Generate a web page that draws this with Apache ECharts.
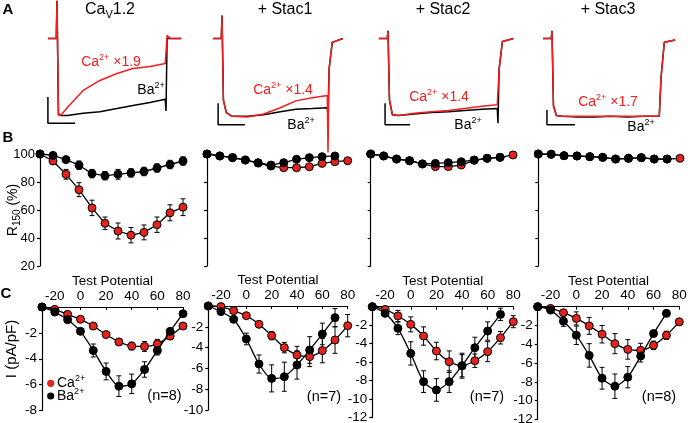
<!DOCTYPE html>
<html><head><meta charset="utf-8">
<script src="https://cdn.jsdelivr.net/npm/echarts@6/dist/echarts.min.js"></script>
<style>html,body{margin:0;padding:0;background:#fff}#c{width:688px;height:423px}</style>
</head><body><div id="c"></div>
<script>
// ---------------- DATA ----------------
const voltages = [-30,-20,-10,0,10,20,30,40,50,60,70,80];

// Row A: normalized current traces (time in ms from pulse onset)
const traceTime = [-25,-2,0,4,12,28,72,118,165,209,256,298,300,303,312,342];
const a1Ca = [0,0,0.49,-1.0,-0.99,-0.9,-0.675,-0.545,-0.455,-0.39,-0.364,-0.325,-0.33,0.04,0,0];
const a1Ba = [0,0,0.49,-0.98,-1.0,-1.0,-0.97,-0.95,-0.91,-0.87,-0.83,-0.79,-0.94,0,0,0];
const a2Ca = [0,0,0.30,-0.8,-0.96,-1.01,-1.02,-0.98,-0.9,-0.81,-0.77,-0.74,-1.48,-0.4,-0.05,0];
const a2Ba = [0,0,0.30,-0.8,-0.96,-1.01,-1.01,-0.99,-0.95,-0.92,-0.91,-0.9,-1.0,-0.4,-0.05,0];
const a3Ca = [0,0,0.10,-0.8,-0.99,-1.0,-0.97,-0.95,-0.935,-0.91,-0.88,-0.86,-0.86,-0.4,-0.04,0];
const a3Ba = [0,0,0.10,-0.8,-0.99,-1.0,-0.98,-0.96,-0.95,-0.935,-0.92,-0.91,-1.1,-0.4,-0.04,0];
const a4Ca = [0,0,0.10,-0.87,-1.0,-1.01,-1.01,-1.01,-1.01,-1.01,-1.01,-1.01,-1.01,-0.5,-0.05,-0.02];
const a4Ba = [0,0,0.10,-0.87,-1.0,-1.01,-1.02,-1.02,-1.01,-1.02,-1.01,-1.01,-1.02,-0.5,-0.05,-0.02];
// scale bars: [t start, t end, current top, current bottom]
const scaleBarT0 = [-25,-11,-8,-14];
const scaleBarT1 = [50,65,60,64];
const scaleBarTop = [-0.76,-0.84,-0.84,-0.93];
const scaleBarBottom = [-1.1,-1.12,-1.12,-1.12];
const panelTitles = ['Ca{sub|V}1.2','+ Stac1','+ Stac2','+ Stac3'];
const caScaleFactors = ['1.9','1.4','1.4','1.7'];

// Row B: R150 (%)
const b1Ca = [100,95,85.5,74.5,61.5,50.5,45,42,44,49.5,58,62];
const b1CaErr = [0,1.5,3.5,5,5.5,4.5,5.7,5.5,5.3,5.5,5.7,6];
const b1Ba = [100,99,96,92,86,84.5,85.5,86.5,87.5,90,92.5,95];
const b1BaErr = [0,1,2,3,3,3,3.5,3,3,3,3,3];
const b2Ca = [100,98.6,97.4,95.7,93.5,91.4,90.2,90.2,90.9,93.3,94.5,95.2];
const b2Ba = [100,98.6,97.4,95.7,93.8,92.1,93.8,96.2,97.4,98.1,98.6,null];
const b3Ca = [100,98.6,96.4,95.2,92.9,91,91,92.1,95.5,96.9,97.6,99.3];
const b3Ba = [100,98.6,96.4,95.2,92.9,93.3,93.8,94.5,95.7,96.9,97.6,null];
const b4Ca = [100,99.8,98.8,98.6,98.1,97.6,96.4,96.9,97.4,96.4,96.4,96.9];
const b4Ba = [100,99.8,98.8,98.6,98.1,97.6,96.4,96.9,97.4,96.4,96.4,null];

// Row C: I (pA/pF)
const c1Ca = [0,-0.18,-0.57,-0.95,-1.47,-2.13,-2.7,-3.02,-3.05,-2.85,-2.25,-1.47];
const c1CaErr = [0,0.05,0.1,0.1,0.15,0.2,0.25,0.3,0.38,0.35,0.25,0.2];
const c1Ba = [0,-0.39,-0.98,-1.88,-3.36,-4.98,-6.12,-5.94,-4.83,-3.36,-1.88,-0.52];
const c1BaErr = [0,0.1,0.15,0.2,0.5,0.65,0.8,0.75,0.6,0.35,0.2,0.1];
const c2Ca = [0,-0.06,-0.45,-0.93,-1.76,-2.85,-4.0,-4.71,-4.87,-4.29,-3.27,-1.89];
const c2CaErr = [0,0.05,0.1,0.15,0.25,0.4,0.5,0.83,0.96,1.17,1.28,1.07];
const c2Ba = [0,-0.54,-1.28,-3.17,-5.58,-6.96,-6.8,-5.67,-4.23,-2.69,-1.12,null];
const c2BaErr = [0,0.1,0.2,0.56,0.87,1.3,1.4,1.36,1.28,1.04,0.88,null];
const c3Ca = [0,-0.29,-1.0,-1.91,-3.17,-4.79,-5.95,-6.38,-5.84,-4.86,-3.35,-1.62];
const c3CaErr = [0,0.15,0.6,0.81,0.99,0.95,1.17,1.2,0.72,1.08,0.68,0.65];
const c3Ba = [0,-0.72,-2.34,-5.05,-8.1,-9.0,-8.1,-6.38,-4.43,-2.63,-0.83,null];
const c3BaErr = [0,0.3,0.68,1.26,1.17,1.22,1.17,1.35,1.13,0.99,0.67,null];
const c4Ca = [0,-0.18,-0.64,-1.25,-2.04,-2.93,-3.93,-4.54,-4.64,-4.11,-3.04,-1.61];
const c4CaErr = [0,0.05,0.2,0.7,0.9,0.93,1.07,1.04,0.75,0.45,0.43,0.36];
const c4Ba = [0,-0.36,-1.54,-3.04,-5.18,-7.61,-8.46,-7.5,-5.25,-2.86,-0.71,null];
const c4BaErr = [0,0.1,0.54,0.98,1.25,1.16,1.3,1.13,0.63,0.3,0.1,null];
const cYMin = [-8,-10,-12,-12];
const cXTicks = [-20,0,20,40,60,80];
const nLabels = ['(n=8)','(n=7)','(n=7)','(n=8)'];

// ---------------- LAYOUT / STYLE ----------------
const FONT = "'Liberation Sans', Arial, Helvetica, sans-serif";
const RED_MARK = '#e3231d';
const RED_TRACE = '#f51d1d';
const aOnset = [57,222,388,552], aEnd = [166,328,498,660];
const bLeft = [40,207,370.7,538.3], bRight = [183,347.7,513,680];
const cLeft = [42,208.3,372.3,537.7], cRight = [183,347.7,513.3,679.3];
const cTop = [307,306,306.7,306.7], cBottom = [410.5,410,417.7,419.5];

const caTraces = [a1Ca,a2Ca,a3Ca,a4Ca], baTraces = [a1Ba,a2Ba,a3Ba,a4Ba];
const bCa = [b1Ca,b2Ca,b3Ca,b4Ca], bBa = [b1Ba,b2Ba,b3Ba,b4Ba];
const cCa = [c1Ca,c2Ca,c3Ca,c4Ca], cBa = [c1Ba,c2Ba,c3Ba,c4Ba];
const cCaErr = [c1CaErr,c2CaErr,c3CaErr,c4CaErr], cBaErr = [c1BaErr,c2BaErr,c3BaErr,c4BaErr];

const grid=[], xAxis=[], yAxis=[], series=[], graphic=[];
function addAxes(g, xa, ya){
  const i = grid.length;
  grid.push(Object.assign({outerBoundsMode:'none', containLabel:false}, g));
  xAxis.push(Object.assign({gridIndex:i}, xa));
  yAxis.push(Object.assign({gridIndex:i}, ya));
  return i;
}
function pairs(xs, ys){ const d=[]; xs.forEach((x,k)=>{ if(ys[k]!=null) d.push([x,ys[k]]); }); return d; }
function traceSeries(i, vals, color, z){
  return {type:'line', xAxisIndex:i, yAxisIndex:i, data:pairs(traceTime, vals), showSymbol:false, symbol:'none',
    lineStyle:{color, width:1.5}, z, silent:true, animation:false, clip:true};
}
function pointSeries(i, vals, fill, z, smooth){
  return {type:'line', xAxisIndex:i, yAxisIndex:i, data:pairs(voltages, vals), symbol:'circle', symbolSize:8,
    showSymbol:true, smooth, itemStyle:{color:fill, borderColor:'#000', borderWidth:1},
    lineStyle:{color:'#000', width:1.3}, z, silent:true, animation:false, clip:false};
}
function errSeries(i, vals, errs, z){
  const data=[];
  voltages.forEach((v,k)=>{ if(vals[k]!=null && errs[k]) data.push([v, vals[k], errs[k]]); });
  return {type:'custom', xAxisIndex:i, yAxisIndex:i, data, z, silent:true, animation:false, clip:false,
    encode:{x:0, y:1},
    renderItem(params, api){
      const x=api.value(0), y=api.value(1), e=api.value(2);
      const a=api.coord([x,y+e]), b=api.coord([x,y-e]), w=2.5;
      const st={stroke:'#000', lineWidth:1};
      return {type:'group', children:[
        {type:'line', shape:{x1:a[0],y1:a[1],x2:b[0],y2:b[1]}, style:st},
        {type:'line', shape:{x1:a[0]-w,y1:a[1],x2:a[0]+w,y2:a[1]}, style:st},
        {type:'line', shape:{x1:b[0]-w,y1:b[1],x2:b[0]+w,y2:b[1]}, style:st}]};
    }};
}
function richSet(size, color){
  return {
    b:{fontSize:size, fontFamily:FONT, lineHeight:size+4, fill:color, verticalAlign:'middle'},
    sup:{fontSize:Math.round(size*0.65), fontFamily:FONT, lineHeight:10, verticalAlign:'top', fill:color},
    sub:{fontSize:Math.round(size*0.68), fontFamily:FONT, lineHeight:10, verticalAlign:'bottom', fill:color}
  };
}
function txt(x, y, text, o={}){
  const size=o.size||14, color=o.color||'#000';
  return {type:'text', x, y, rotation:o.rot||0, silent:true, z:100,
    style:{text, fill:color, fontSize:size, fontFamily:FONT, fontWeight:o.weight||'normal',
      align:o.align||'center', verticalAlign:o.va||'middle', rich:richSet(size,color)}};
}

// ---------------- ROW A ----------------
const aLabelCa = [[111,62],[283,90],[439,97],[608,102]];
const aLabelBa = [[151,90],[301,125],[468,125],[641,127]];
const titlePos = [110,285,443,608];
for(let p=0;p<4;p++){
  const ppm=(aEnd[p]-aOnset[p])/300;
  const i=addAxes({left:aOnset[p]-30*ppm, top:0, width:375*ppm, height:161.7},
    {type:'value', min:-30, max:345, show:false},
    {type:'value', min:-1.6, max:0.5, show:false});
  series.push(traceSeries(i, baTraces[p], '#000', 1));
  series.push(traceSeries(i, caTraces[p], RED_TRACE, 2));
  series.push({type:'line', xAxisIndex:i, yAxisIndex:i, symbol:'none', silent:true, animation:false, z:3,
    data:[[scaleBarT0[p],scaleBarTop[p]],[scaleBarT0[p],scaleBarBottom[p]],[scaleBarT1[p],scaleBarBottom[p]]],
    lineStyle:{color:'#000', width:1.5}});
  graphic.push(txt(titlePos[p], 10, p===0?'{b|Ca}{sub|V}{b|1.2}':'{b|'+panelTitles[p]+'}', {size:16}));
  graphic.push(txt(aLabelCa[p][0], aLabelCa[p][1], '{b|Ca}{sup|2+}{b| \u00d7'+caScaleFactors[p]+'}', {size:14, color:RED_TRACE}));
  graphic.push(txt(aLabelBa[p][0], aLabelBa[p][1], '{b|Ba}{sup|2+}', {size:14}));
}

// ---------------- ROW B ----------------
for(let p=0;p<4;p++){
  const i=addAxes({left:bLeft[p], top:154, width:bRight[p]-bLeft[p], height:112},
    {type:'value', min:-30, max:80, show:false},
    {type:'value', min:20, max:100, interval:20,
      axisLine:{show:true, onZero:false, lineStyle:{color:'#000', width:1.2}},
      axisTick:{show:true, length:3, lineStyle:{color:'#000', width:1.2}},
      axisLabel:{show:p===0, fontSize:13, color:'#000', margin:5, fontFamily:FONT},
      splitLine:{show:false}});
  if(p===0){
    series.push(errSeries(i, b1Ca, b1CaErr, 2));
    series.push(errSeries(i, b1Ba, b1BaErr, 2));
  }
  series.push(pointSeries(i, bCa[p], RED_MARK, 3, false));
  series.push(pointSeries(i, bBa[p], '#000', 4, false));
}

// ---------------- ROW C ----------------
const nPos = [[164.5,396],[324,397],[487,397],[659,397]];
for(let p=0;p<4;p++){
  const i=addAxes({left:cLeft[p], top:cTop[p], width:cRight[p]-cLeft[p], height:cBottom[p]-cTop[p]},
    {type:'value', position:'top', min:-30, max:80,
      axisLine:{show:true, onZero:false, lineStyle:{color:'#000', width:1.2}},
      axisTick:{show:true, inside:true, length:3, customValues:cXTicks, lineStyle:{color:'#000'}},
      axisLabel:{customValues:cXTicks, fontSize:13.5, color:'#000', margin:4, fontFamily:FONT},
      splitLine:{show:false},
      name:'Test Potential', nameLocation:'middle', nameGap:18,
      nameTextStyle:{fontSize:13.5, color:'#000', fontFamily:FONT}},
    {type:'value', min:cYMin[p], max:0, interval:2,
      axisLine:{show:true, onZero:false, lineStyle:{color:'#000', width:1.2}},
      axisTick:{show:true, length:3, lineStyle:{color:'#000', width:1.2}},
      axisLabel:{fontSize:13.5, color:'#000', margin:5, fontFamily:FONT, formatter:v=>v===0?'':String(v)},
      splitLine:{show:false}});
  series.push(errSeries(i, cCa[p], cCaErr[p], 2));
  series.push(errSeries(i, cBa[p], cBaErr[p], 2));
  series.push(pointSeries(i, cCa[p], RED_MARK, 3, 0.25));
  series.push(pointSeries(i, cBa[p], '#000', 4, 0.25));
  graphic.push(txt(nPos[p][0], nPos[p][1], nLabels[p], {size:14.5}));
}

// panel letters, axis titles, legend
graphic.push(txt(8,10,'A',{size:15, weight:'bold'}));
graphic.push(txt(8,138,'B',{size:15, weight:'bold'}));
graphic.push(txt(6,294,'C',{size:15, weight:'bold'}));
graphic.push(txt(13,210,'{b|R}{sub|150}{b| (%)}',{size:14, rot:Math.PI/2}));
graphic.push(txt(12,349,'I (pA/pF)',{size:15, rot:Math.PI/2}));
graphic.push({type:'circle', shape:{cx:50.7, cy:383.3, r:3.6}, style:{fill:RED_MARK}, silent:true, z:100});
graphic.push({type:'circle', shape:{cx:50.7, cy:396, r:3.6}, style:{fill:'#000'}, silent:true, z:100});
graphic.push(txt(57,383,'{b|Ca}{sup|2+}',{size:14, align:'left'}));
graphic.push(txt(57,396,'{b|Ba}{sup|2+}',{size:14, align:'left'}));

const chart = echarts.init(document.getElementById('c'), null, {renderer:'canvas'});
chart.setOption({animation:false, backgroundColor:'#fff', grid, xAxis, yAxis, series, graphic});
</script></body></html>
